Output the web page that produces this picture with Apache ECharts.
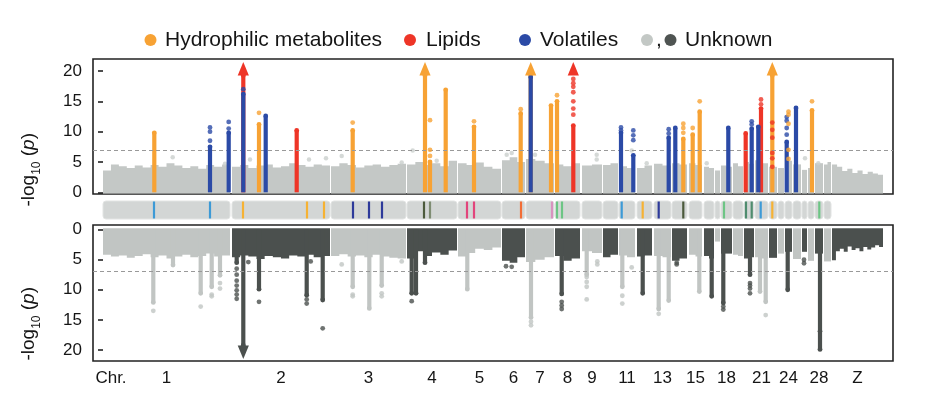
<!DOCTYPE html>
<html><head><meta charset="utf-8">
<script src="https://cdn.jsdelivr.net/npm/echarts/dist/echarts.min.js"></script>
<style>html,body{margin:0;padding:0;background:#fff}#c{width:936px;height:393px}</style>
</head><body><div id="c"></div>
<script>
// ---------- DATA (x positions in genome units, y in -log10 p) ----------
const chromNames = ['1','2','3','4','5','6','7','8','9','10','11','12','13','14','15','16','17','18','19','20','21','22','23','24','25','26','27','28','29','Z'];
const chromStart = [0,129,228,304,355,399,423,452,479,500,516,534,551,569,586,601,612,618,630,641,652,666,675,682,690,699,705,712,721,729];
const chromEnd   = [127,227,303,354,398,422,451,477,499,515,532,549,568,584,599,611,617,629,640,651,665,674,681,689,698,704,711,720,728,780];
const shownLabels = ['1','2','3','4','5','6','7','8','9','11','13','15','18','21','24','28','Z'];
const yTicks = [0,5,10,15,20];
const threshold = 7;

// background (null-ish SNP mass) profile per chromosome, top panel
const topBg = [
 [3.6,4.6,4.3,4.0,4.4,4.1,4.5,4.2,4.8,4.4,4.0,4.3,3.9,4.5,4.2,4.6],
 [4.2,4.5,4.0,4.4,4.6,4.1,4.3,4.8,4.5,4.2,4.6,4.4],
 [4.3,4.8,4.5,4.1,4.4,4.6,4.2,4.5,4.7],
 [4.6,5.0,4.5,4.8,4.3,5.2],
 [4.8,4.5,4.9,4.2,3.9],
 [5.3,5.8,5.0],
 [5.5,5.2,4.8],
 [4.6,4.3,4.8],
 [4.4,4.6],
 [4.5,4.8],
 [4.3,4.0],
 [4.0,4.4],
 [4.7,4.4],
 [4.8,4.6],
 [4.8,4.5],
 [4.2,4.0],
 [3.6],
 [4.4,4.2],
 [4.8,4.3],
 [5.0,4.7],
 [5.3,4.8],
 [4.2],
 [4.0],
 [5.2],
 [4.6],
 [3.7],
 [4.0],
 [4.8],
 [4.6,5.0],
 [4.6,4.2,3.5,3.9,3.2,3.6,3.0,3.4,3.1,2.9]
];
// background profile per chromosome, bottom panel (unknown features)
const bottomBg = [
 [4.2,4.5,4.3,4.7,4.4,4.1,4.6,4.3,4.8,4.5,4.2,4.6,4.4,4.0,4.5,4.3],
 [4.6,4.3,4.5,4.9,4.4,4.6,4.8,4.3,4.5,4.2,4.6,4.4],
 [4.4,4.1,4.5,4.3,4.6,4.2,4.5,4.7,4.8],
 [4.8,3.6,4.4,3.8,4.2,3.5],
 [4.5,3.9,3.2,3.4,3.0],
 [5.2,5.5,4.6],
 [5.4,5.0,4.6],
 [4.4,5.2,4.8],
 [3.6,3.9],
 [4.6,4.2],
 [4.3,4.6],
 [4.5,4.3],
 [4.4,4.6],
 [5.2,4.8],
 [4.2,4.5],
 [4.4,4.8],
 [2.0],
 [4.0],
 [4.2,4.4],
 [4.8,4.6],
 [4.6,4.8],
 [4.7],
 [4.0],
 [3.7],
 [4.9],
 [3.7],
 [5.2],
 [4.0],
 [5.3],
 [5.1,3.6,3.2,3.7,2.8,3.4,3.1,3.6,2.9,3.3,3.0,2.6,2.9]
];
// isolated background SNPs above the mass (top panel)
const topGrayDots = [[69.7,5.8],[122,4.7],[147,5.4],[206,5.4],[223,5.6],[238.7,6.0],[298.7,4.9],[309.7,6.9],[333.7,5.2],[403.7,6.2],[408.7,6.5],[432,6.2],[493.7,6.2],[493.7,5.4],[528.7,6.9],[543.7,4.8],[603.7,4.8],[702,5.6],[715.3,4.8]];

// top panel: significant loci [position, column top]
const hydroPeaks = [[51.3,9.8],[156,11.2],[249.7,10.2],[322,19.25],[327,5.0],[342.7,16.9],[371,10.8],[417.7,13.0],[427.7,19.25],[448,14.3],[454,15.0],[580.3,8.8],[589.7,9.5],[596.7,13.3],[669.3,19.25],[709,13.5]];
const lipidPeaks = [[140.3,19.25],[193.7,10.2],[470.3,11.0],[642.7,9.7],[658,13.8]];
const volPeaks = [[107,7.5],[125.7,9.8],[140.3,16.2],[162.7,12.6],[427.7,19.0],[518,9.8],[530.3,6.1],[565.7,9.0],[572.3,10.6],[625.3,10.6],[648.7,10.5],[655.3,10.8],[683.7,8.3],[693,13.9]];
const hydroDots = [[156,13.1],[249.7,11.5],[327,6.0],[327,7.0],[327,11.9],[371,11.7],[417.7,13.7],[454,16.0],[580.3,9.8],[580.3,10.6],[580.3,11.3],[589.7,10.6],[596.7,15.0],[709,15.0],[685.5,5.5],[685.5,7.0],[685.5,11.3],[685.5,12.8],[685.5,13.3]];
const lipidDots = [[470.3,12.8],[470.3,13.8],[470.3,15.0],[470.3,16.5],[470.3,17.4],[470.3,18.0],[470.3,18.7],[658,14.5],[658,15.3],[669.3,4.2],[669.3,5.6],[669.3,6.5],[669.3,9.0],[669.3,10.3],[669.3,11.5]];
const volDots = [[107,8.5],[107,10.0],[107,10.7],[125.7,10.5],[125.7,11.6],[140.3,17.0],[518,10.2],[518,10.7],[530.3,8.6],[530.3,9.4],[530.3,10.2],[565.7,9.7],[565.7,10.4],[648.7,11.2],[648.7,11.7],[683.7,9.5],[683.7,10.6],[683.7,11.8],[683.7,12.4]];
const hydroArrows = [322,427.7,669.3];
const lipidArrows = [140.3,470.3];

// bottom panel: unknown features
const bottomSpikes = [[50.3,12.1],[70,5.9],[97.7,10.6],[108.7,9.5],[117,7.6],[133.7,5.5],[140.3,19.2],[156,9.9],[203.7,10.9],[219.7,11.7],[249.7,9.5],[266.3,13.1],[278.7,9.3],[308.7,10.6],[313,10.6],[322,5.5],[364.3,9.9],[428,14.6],[458.7,10.7],[483.7,7.5],[519.3,9.5],[539.7,10.6],[555.7,13.2],[565.7,11.8],[596.3,10.3],[608.7,11.1],[620.3,12.2],[647,7.5],[657,10.3],[662.7,12.0],[684.7,10.0],[717,19.9]];
const bottomDots = [[50.3,13.5],[97.7,12.8],[108.7,10.8],[108.7,11.1],[117,8.9],[117,9.8],[133.7,6.5],[133.7,7.5],[133.7,8.5],[133.7,9.3],[133.7,10.1],[133.7,10.8],[133.7,11.5],[145.3,5.4],[156,12.0],[203.7,11.6],[203.7,12.3],[207.7,5.3],[219.7,16.4],[238.7,5.8],[249.7,10.8],[249.7,11.1],[278.7,10.6],[278.7,11.1],[298.7,5.3],[308.7,11.9],[403,6.1],[408.7,6.2],[428,15.3],[428,15.9],[458.7,12.0],[458.7,12.6],[458.7,13.2],[483.7,7.9],[483.7,8.7],[483.7,9.5],[483.7,11.6],[494.3,5.3],[494.3,5.8],[519.3,11.0],[519.3,12.3],[528.7,6.3],[555.7,14.0],[573.7,5.5],[573.7,5.8],[620.3,12.8],[620.3,13.3],[647,8.9],[647,9.3],[647,9.8],[647,10.6],[662.7,14.2],[701,5.0],[701,5.6],[717,16.9]];
const bottomArrows = [140.3];

// middle strip: lead loci by compound class
const stripMarks = [[51,'A'],[107,'A'],[140,'B'],[204,'B'],[221,'B'],[250,'C'],[266,'C'],[279,'C'],[321,'D'],[327,'E'],[364,'F'],[371,'F'],[418,'G'],[449,'H'],[454,'I'],[459,'I'],[518.7,'A'],[539.7,'B'],[555.7,'C'],[580.3,'D'],[621,'I'],[643,'J'],[648.7,'J'],[657.7,'A'],[669.3,'B'],[716.3,'I']];

// ---------- STYLE ----------
const C_HYD = '#f7a234', C_LIP = '#ee3527', C_VOL = '#2b4aa6';
const C_BG = '#c4c8c6', C_LIGHT = '#c1c5c3', C_DARK = '#4b504e';
const stripColors = {A:'#3d9ad6',B:'#f6b233',C:'#2d3a9a',D:'#4c5a3c',E:'#7f8d73',F:'#e2457c',G:'#f26d36',H:'#d892bf',I:'#6dc585',J:'#4f8c6e'};
const FONT = "'Liberation Sans', Arial, sans-serif";
const TXT = '#151515';

function chromIndexOf(u){
  for (let i=0;i<chromStart.length;i++){ if (u>=chromStart[i]-1 && u<=chromEnd[i]+1) return i; }
  return 0;
}
function shade(u){ return chromIndexOf(u)%2===0 ? C_LIGHT : C_DARK; }

const centers = chromStart.map((s,i)=>(s+chromEnd[i])/2);
const labelPos = [8].concat(shownLabels.map(n=>centers[chromNames.indexOf(n)]));
const labelTxt = ['Chr.'].concat(shownLabels);

function bgRender(profiles, base, colorFn){
  return function(params, api){
    const i = api.value(2), s = api.value(0), e = api.value(1);
    const prof = profiles[i], n = prof.length, w = (e-s)/n;
    const pts = [api.coord([s, base])];
    for (let k=0;k<n;k++){ pts.push(api.coord([s+k*w, prof[k]])); pts.push(api.coord([s+(k+1)*w, prof[k]])); }
    pts.push(api.coord([e, base]));
    return {type:'polygon', shape:{points:pts}, style:{fill:colorFn(i)}};
  };
}
function colRender(colorFn, halfW){
  return function(params, api){
    const u = api.value(0), v = api.value(1);
    const t = api.coord([u, v]), b = api.coord([u, 0]);
    const col = colorFn(u);
    const y0 = Math.min(t[1], b[1]), h = Math.abs(b[1]-t[1]);
    return {type:'group', children:[
      {type:'rect', shape:{x:t[0]-halfW, y:y0, width:halfW*2, height:h}, style:{fill:col}},
      {type:'circle', shape:{cx:t[0], cy:t[1], r:halfW+0.3}, style:{fill:col}}
    ]};
  };
}
function arrowRender(colorFn){
  return function(params, api){
    const u = api.value(0);
    const tip = api.coord([u, 21.5]), bs = api.coord([u, 19.25]);
    return {type:'polygon', shape:{points:[[tip[0],tip[1]],[bs[0]-5.6,bs[1]],[bs[0]+5.6,bs[1]]]}, style:{fill:colorFn(u)}};
  };
}

const chart = echarts.init(document.getElementById('c'), null, {renderer:'canvas'});
const xRange = {min:-10, max:790};
const bgData = chromStart.map((s,i)=>[s, chromEnd[i], i]);

const yName = (y)=>({
  type:'text', left: 19, top: y, rotation: Math.PI/2, originX: 0, originY: 0,
  style:{ text:'-log{s|10} ({i|p})', font: '19px '+FONT, fill: TXT, align:'center', verticalAlign:'middle',
    rich:{ s:{fontSize:12, fontFamily:FONT, verticalAlign:'bottom', lineHeight:28, fill:TXT}, i:{fontSize:19, fontStyle:'italic', fontFamily:FONT, fill:TXT} } }
});

const legendItems = [];
function lg(cx, color){ legendItems.push({type:'circle', shape:{cx:cx, cy:40, r:6}, style:{fill:color}}); }
function lt(x, t){ legendItems.push({type:'text', x:x, y:40, style:{text:t, font:'21px '+FONT, fill:TXT, verticalAlign:'middle'}}); }
lg(150.5, C_HYD); lt(165, 'Hydrophilic metabolites');
lg(410, C_LIP); lt(426, 'Lipids');
lg(525, C_VOL); lt(540, 'Volatiles');
lg(647, '#c3c8c5'); lt(656, ','); lg(670.5, '#4f5452'); lt(685, 'Unknown');

const option = {
  animation:false,
  grid:[
    {left:93, right:43, top:59, height:135, show:true, borderColor:'#222', borderWidth:1.6, backgroundColor:'transparent'},
    {left:93, right:43, top:201, height:18, show:false},
    {left:93, right:43, top:225, height:136, show:true, borderColor:'#222', borderWidth:1.6, backgroundColor:'transparent'}
  ],
  xAxis:[
    {type:'value', gridIndex:0, min:xRange.min, max:xRange.max, show:false},
    {type:'value', gridIndex:1, min:xRange.min, max:xRange.max, show:false},
    {type:'value', gridIndex:2, min:xRange.min, max:xRange.max, splitLine:{show:false}, axisLine:{show:false},
      axisTick:{show:true, length:5, lineStyle:{color:'#222', width:1.6}, customValues:centers},
      axisLabel:{show:true, margin:9, fontSize:17, fontFamily:FONT, color:TXT, customValues:labelPos,
        formatter:(v)=>{ for (let i=0;i<labelPos.length;i++){ if (Math.abs(labelPos[i]-v)<0.01) return labelTxt[i]; } return ''; } } }
  ],
  yAxis:[
    {type:'value', gridIndex:0, min:-0.28, max:21.98, splitLine:{show:false}, axisLine:{show:false},
      axisTick:{show:true, length:5, lineStyle:{color:'#222', width:1.6}, customValues:yTicks},
      axisLabel:{fontSize:17, fontFamily:FONT, color:TXT, margin:11, customValues:yTicks}},
    {type:'value', gridIndex:1, min:0, max:1, show:false},
    {type:'value', gridIndex:2, inverse:true, min:-0.75, max:21.83, splitLine:{show:false}, axisLine:{show:false},
      axisTick:{show:true, length:5, lineStyle:{color:'#222', width:1.6}, customValues:yTicks},
      axisLabel:{fontSize:17, fontFamily:FONT, color:TXT, margin:11, customValues:yTicks}}
  ],
  graphic: legendItems.concat([yName(133), yName(287)]),
  series:[
    // top panel
    {type:'custom', xAxisIndex:0, yAxisIndex:0, data:bgData, encode:{x:[0,1]}, renderItem:bgRender(topBg, -0.2, ()=>C_BG), z:1,
      markLine:{silent:true, symbol:'none', label:{show:false}, lineStyle:{type:[4,3], color:'#999', width:1}, data:[{yAxis:threshold}]}},
    {type:'scatter', xAxisIndex:0, yAxisIndex:0, data:topGrayDots, symbolSize:4.5, itemStyle:{color:'#cbcfcd'}, z:2},
    {type:'custom', xAxisIndex:0, yAxisIndex:0, data:hydroPeaks, encode:{x:0,y:1}, renderItem:colRender(()=>C_HYD, 2.1), z:3},
    {type:'custom', xAxisIndex:0, yAxisIndex:0, data:lipidPeaks, encode:{x:0,y:1}, renderItem:colRender(()=>C_LIP, 2.1), z:4},
    {type:'custom', xAxisIndex:0, yAxisIndex:0, data:volPeaks, encode:{x:0,y:1}, renderItem:colRender(()=>C_VOL, 2.1), z:5},
    {type:'scatter', xAxisIndex:0, yAxisIndex:0, data:volDots, symbolSize:4.8, itemStyle:{color:C_VOL}, z:6},
    {type:'scatter', xAxisIndex:0, yAxisIndex:0, data:hydroDots, symbolSize:4.8, itemStyle:{color:C_HYD}, z:6},
    {type:'scatter', xAxisIndex:0, yAxisIndex:0, data:lipidDots, symbolSize:4.8, itemStyle:{color:C_LIP}, z:6},
    {type:'custom', xAxisIndex:0, yAxisIndex:0, data:hydroArrows.map(v=>[v]), encode:{x:0}, renderItem:arrowRender(()=>C_HYD), z:7},
    {type:'custom', xAxisIndex:0, yAxisIndex:0, data:lipidArrows.map(v=>[v]), encode:{x:0}, renderItem:arrowRender(()=>C_LIP), z:7},
    // strip
    {type:'custom', xAxisIndex:1, yAxisIndex:1, data:bgData.slice(0,29), encode:{x:[0,1]}, z:1,
      renderItem:(p,api)=>{ const a=api.coord([api.value(0),1]), b=api.coord([api.value(1),0]);
        return {type:'rect', shape:{x:a[0], y:a[1], width:b[0]-a[0], height:b[1]-a[1], r:3}, style:{fill:'#d3d6d5', stroke:'#e2e4e3', lineWidth:1}}; }},
    {type:'custom', xAxisIndex:1, yAxisIndex:1, data:stripMarks.map(m=>[m[0], m[1]]), encode:{x:0}, dimensions:['x',{name:'k',type:'ordinal'}], z:2,
      renderItem:(p,api)=>{ const a=api.coord([api.value(0),1]), b=api.coord([api.value(0),0]); const k=stripMarks[p.dataIndex][1];
        return {type:'rect', shape:{x:a[0]-1.1, y:a[1]+0.5, width:2.2, height:b[1]-a[1]-1}, style:{fill:stripColors[k]}}; }},
    // bottom panel
    {type:'custom', xAxisIndex:2, yAxisIndex:2, data:bgData, encode:{x:[0,1]}, renderItem:bgRender(bottomBg, -0.2, (i)=>i%2===0?C_LIGHT:C_DARK), z:1,
      markLine:{silent:true, symbol:'none', label:{show:false}, lineStyle:{type:[4,3], color:'#999', width:1}, data:[{yAxis:threshold}]}},
    {type:'custom', xAxisIndex:2, yAxisIndex:2, data:bottomSpikes, encode:{x:0,y:1}, renderItem:colRender(shade, 2.1), z:3},
    {type:'scatter', xAxisIndex:2, yAxisIndex:2, data:bottomDots, symbolSize:4.8, itemStyle:{color:(p)=>shade(p.value[0])}, z:4},
    {type:'custom', xAxisIndex:2, yAxisIndex:2, data:bottomArrows.map(v=>[v]), encode:{x:0}, renderItem:arrowRender(shade), z:5}
  ]
};
chart.setOption(option);
</script></body></html>
